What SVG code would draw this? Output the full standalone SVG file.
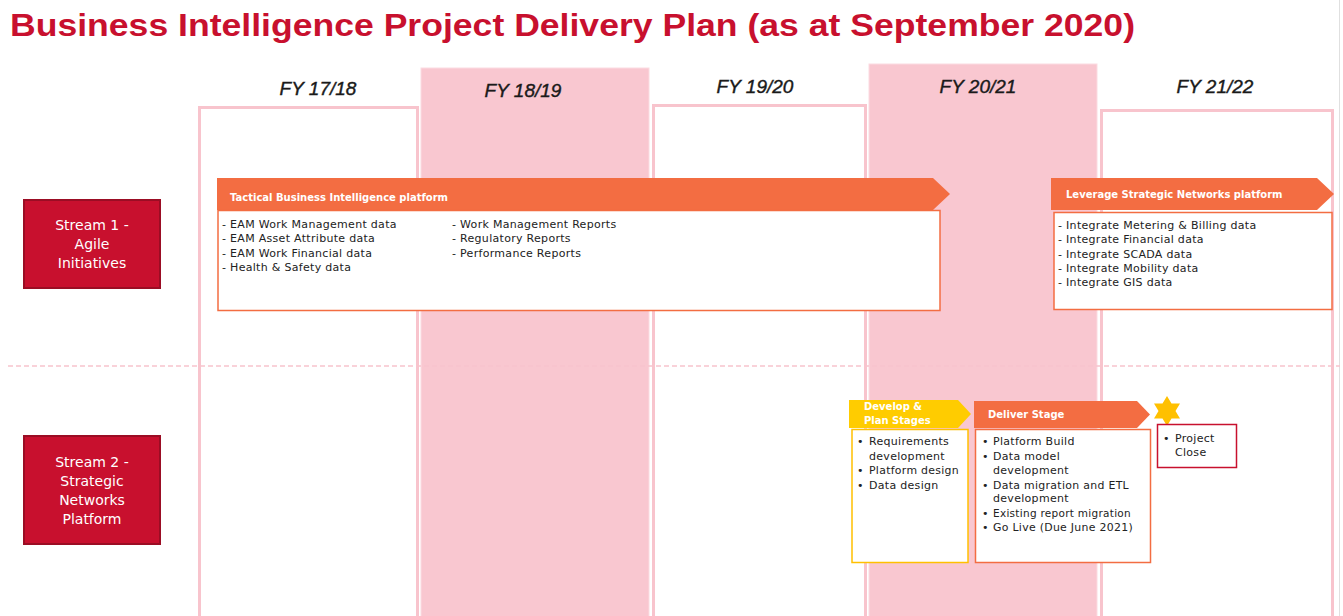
<svg xmlns="http://www.w3.org/2000/svg" width="1343" height="616" viewBox="0 0 1343 616">
  <style>
    .title { font-family: "Liberation Sans", Arial, sans-serif; font-weight: bold; font-size: 32px; fill: #c8102e; }
    .fy { font-family: "Liberation Sans", Arial, sans-serif; font-style: italic; font-size: 19px; fill: #1a1a1a; text-anchor: middle; stroke: #1a1a1a; stroke-width: 0.4; }
    .col-white { fill: #ffffff; stroke: #f8c4cd; stroke-width: 3; }
    .col-pink { fill: #f9c7d0; stroke: #fbdbe1; stroke-width: 1; }
    .stream { fill: #c8102e; stroke: #9b0d24; stroke-width: 2; }
    .stream-text { font-family: "DejaVu Sans", Verdana, sans-serif; font-size: 14px; fill: #ffffff; text-anchor: middle; }
    .hdr-orange { fill: #f36d42; }
    .hdr-yellow { fill: #ffcc00; }
    .hdr-text { font-family: "DejaVu Sans", Verdana, sans-serif; font-weight: bold; font-size: 10px; fill: #ffffff; }
    .body-orange { fill: #ffffff; stroke: #f36d42; stroke-width: 1.5; }
    .body-yellow { fill: #ffffff; stroke: #ffc000; stroke-width: 1.5; }
    .body-red { fill: #ffffff; stroke: #c8102e; stroke-width: 1.5; }
    .item { font-family: "DejaVu Sans", Verdana, sans-serif; font-size: 11px; fill: #222222; letter-spacing: 0.3px; }
    .divider { stroke: #f8c4cd; stroke-width: 1.5; stroke-dasharray: 5 3; fill: none; }
  </style>

  <rect width="1343" height="616" fill="#ffffff"/>
  <line x1="1339.5" y1="0" x2="1339.5" y2="616" stroke="#e0e0e0" stroke-width="1"/>

  <!-- Heading -->
  <text class="title" x="10" y="36" textLength="1125" lengthAdjust="spacingAndGlyphs">Business Intelligence Project Delivery Plan (as at September 2020)</text>

  <!-- Financial year columns -->
  <g id="columns">
    <rect class="col-white" x="199.5" y="107.5" width="218" height="510"/>
    <rect class="col-pink" x="421" y="68" width="228" height="550"/>
    <rect class="col-white" x="653.5" y="105.5" width="212" height="512"/>
    <rect class="col-pink" x="869" y="64" width="228" height="554"/>
    <rect class="col-white" x="1101.5" y="110.5" width="231" height="507"/>
  </g>
  <g id="year-labels">
    <text class="fy" x="318" y="95">FY 17/18</text>
    <text class="fy" x="523" y="97">FY 18/19</text>
    <text class="fy" x="755" y="93">FY 19/20</text>
    <text class="fy" x="978" y="93">FY 20/21</text>
    <text class="fy" x="1215" y="93">FY 21/22</text>
  </g>

  <!-- Stream divider -->
  <g id="connectors">
    <line class="divider" x1="8" y1="366" x2="1340" y2="366"/>
  </g>

  <!-- Streams -->
  <g id="stream-1">
    <rect class="stream" x="24" y="200" width="136" height="88"/>
    <text class="stream-text" x="92" y="230">Stream 1 -</text>
    <text class="stream-text" x="92" y="249">Agile</text>
    <text class="stream-text" x="92" y="268">Initiatives</text>
  </g>
  <g id="stream-2">
    <rect class="stream" x="24" y="436" width="136" height="108"/>
    <text class="stream-text" x="92" y="467">Stream 2 -</text>
    <text class="stream-text" x="92" y="486">Strategic</text>
    <text class="stream-text" x="92" y="505">Networks</text>
    <text class="stream-text" x="92" y="524">Platform</text>
  </g>

  <!-- Tactical BI platform -->
  <g id="tactical-platform">
    <polygon class="hdr-orange" points="217,178 933,178 950,194 933,210 217,210"/>
    <text class="hdr-text" x="230" y="201">Tactical Business Intelligence platform</text>
    <rect class="body-orange" x="218" y="210.5" width="722" height="100"/>
    <text class="item" x="222" y="228">- EAM Work Management data</text>
    <text class="item" x="222" y="242">- EAM Asset Attribute data</text>
    <text class="item" x="222" y="257">- EAM Work Financial data</text>
    <text class="item" x="222" y="271">- Health &amp; Safety data</text>
    <text class="item" x="452" y="228">- Work Management Reports</text>
    <text class="item" x="452" y="242">- Regulatory Reports</text>
    <text class="item" x="452" y="257">- Performance Reports</text>
  </g>

  <!-- Strategic networks platform -->
  <g id="strategic-platform">
    <polygon class="hdr-orange" points="1051,178 1317,178 1334,194 1317,210 1051,210"/>
    <text class="hdr-text" x="1066" y="198">Leverage Strategic Networks platform</text>
    <rect class="body-orange" x="1054" y="212.5" width="278" height="97"/>
    <text class="item" x="1058" y="229">- Integrate Metering &amp; Billing data</text>
    <text class="item" x="1058" y="243">- Integrate Financial data</text>
    <text class="item" x="1058" y="258">- Integrate SCADA data</text>
    <text class="item" x="1058" y="272">- Integrate Mobility data</text>
    <text class="item" x="1058" y="286">- Integrate GIS data</text>
  </g>

  <!-- Develop & plan stages -->
  <g id="develop-plan">
    <polygon class="hdr-yellow" points="849,400 958,400 971,414 958,428 849,428"/>
    <text class="hdr-text" x="864" y="410">Develop &amp;</text>
    <text class="hdr-text" x="864" y="424">Plan Stages</text>
    <rect class="body-yellow" x="852" y="429.5" width="116" height="133"/>
    <text class="item" x="857" y="445">•</text>
    <text class="item" x="869" y="445">Requirements</text>
    <text class="item" x="869" y="460">development</text>
    <text class="item" x="857" y="474">•</text>
    <text class="item" x="869" y="474" textLength="90" lengthAdjust="spacingAndGlyphs">Platform design</text>
    <text class="item" x="857" y="489">•</text>
    <text class="item" x="869" y="489">Data design</text>
  </g>

  <!-- Deliver stage -->
  <g id="deliver-stage">
    <polygon class="hdr-orange" points="974,401 1137,401 1150,414.5 1137,428 974,428"/>
    <text class="hdr-text" x="988" y="418">Deliver Stage</text>
    <rect class="body-orange" x="975.5" y="429.5" width="175" height="133"/>
    <text class="item" x="982" y="445">•</text>
    <text class="item" x="993" y="445">Platform Build</text>
    <text class="item" x="982" y="460">•</text>
    <text class="item" x="993" y="460">Data model</text>
    <text class="item" x="993" y="474">development</text>
    <text class="item" x="982" y="489">•</text>
    <text class="item" x="993" y="489" textLength="136" lengthAdjust="spacingAndGlyphs">Data migration and ETL</text>
    <text class="item" x="993" y="502">development</text>
    <text class="item" x="982" y="517">•</text>
    <text class="item" x="993" y="517" textLength="138" lengthAdjust="spacingAndGlyphs">Existing report migration</text>
    <text class="item" x="982" y="531">•</text>
    <text class="item" x="993" y="531" textLength="140" lengthAdjust="spacingAndGlyphs">Go Live (Due June 2021)</text>
  </g>

  <!-- Project close milestone -->
  <g id="project-close">
    <polygon fill="#ffc000" points="1167,396 1171.5,403.5 1180,403.5 1175.5,411 1180,418.5 1171.5,418.5 1167,426 1162.5,418.5 1154,418.5 1158.5,411 1154,403.5 1162.5,403.5"/>
    <rect class="body-red" x="1157.5" y="424.5" width="79" height="43"/>
    <text class="item" x="1163" y="442">•</text>
    <text class="item" x="1175" y="442">Project</text>
    <text class="item" x="1175" y="456">Close</text>
  </g>
</svg>
